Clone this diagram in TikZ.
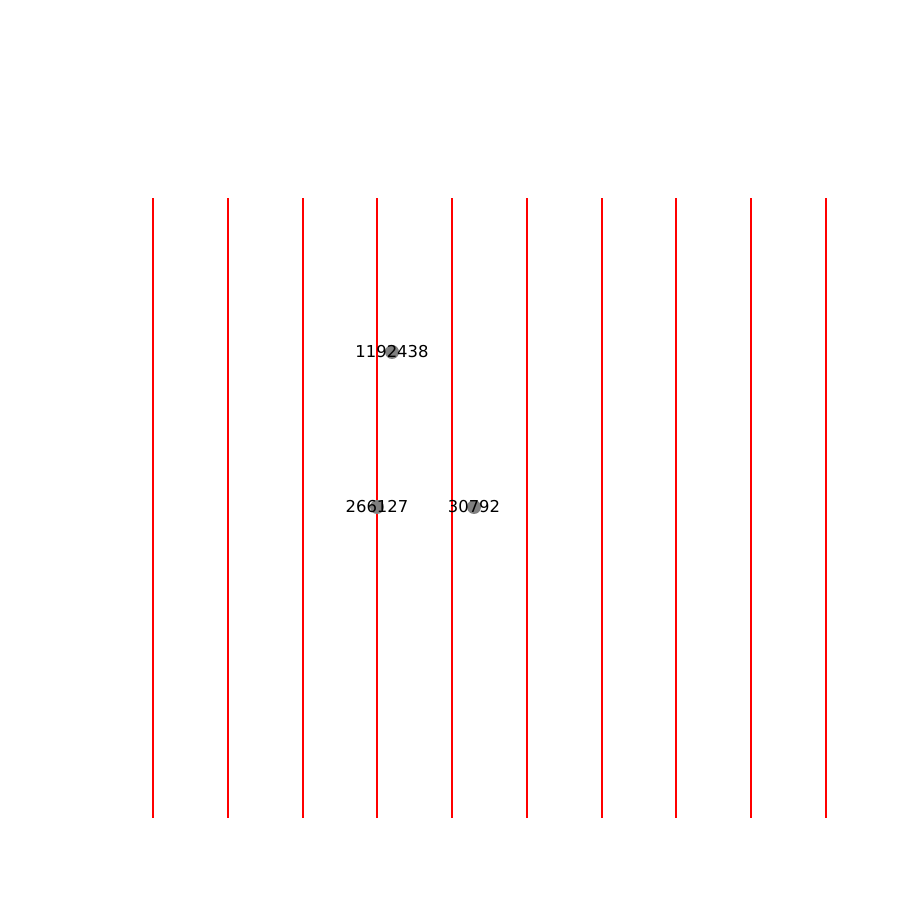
\documentclass[tikz,border=0pt]{standalone}
\usepackage{fontspec}
\setmainfont{DejaVu Sans}
\begin{document}
\begin{tikzpicture}[x=1pt,y=1pt,
  vline/.style={fill=red,draw=none},
  dot/.style={circle,fill=gray,inner sep=0pt,minimum size=14pt},
  lbl/.style={font=\fontsize{16.4}{19}\selectfont,inner sep=0pt}]
\useasboundingbox (0,0) rectangle (900,900);
\foreach \xx in {152,227,302,376,451,526,601,675,750,825} {
  \coordinate (t\xx) at ({\xx},702);
  \coordinate (b\xx) at ({\xx+1.5},82);
  \fill[vline] (t\xx) rectangle (b\xx);
}
\node[dot] (d1) at (392,548) {};
\node[dot] (d2) at (377,393) {};
\node[dot] (d3) at (474,393) {};
\node[lbl] (l1) at (d1) {1192438};
\node[lbl] (l2) at (d2) {266127};
\node[lbl] (l3) at (d3) {30792};
\end{tikzpicture}
\end{document}
